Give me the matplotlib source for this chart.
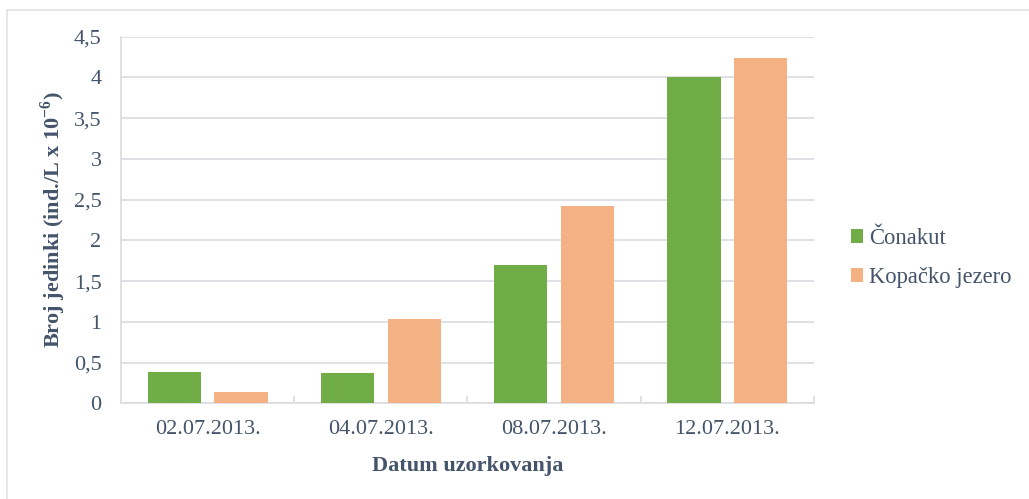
import matplotlib
matplotlib.use('Agg')
import matplotlib.pyplot as plt
from matplotlib.lines import Line2D
import numpy as np

dates    = ['02.07.2013.', '04.07.2013.', '08.07.2013.', '12.07.2013.']
conakut  = [0.39, 0.37, 1.70, 4.00]
kopacko  = [0.14, 1.03, 2.42, 4.24]
series_names = ['Čonakut', 'Kopačko jezero']
y_ticks  = [0, 0.5, 1, 1.5, 2, 2.5, 3, 3.5, 4, 4.5]
y_labels = ['0', '0,5', '1', '1,5', '2', '2,5', '3', '3,5', '4', '4,5']

txt = '#44546A'
grid_c = '#D9DCE2'

plt.rcParams['font.family'] = ['Liberation Serif', 'DejaVu Serif']
plt.rcParams['mathtext.fontset'] = 'custom'
plt.rcParams['mathtext.rm'] = 'Liberation Serif'
plt.rcParams['mathtext.bf'] = 'Liberation Serif:bold'

fig = plt.figure(figsize=(10.29, 4.99), dpi=100)
ax = fig.add_axes([121/1029, 1 - 403.3/499, (814 - 121)/1029, (403.3 - 36.7)/499])

# outer frame (only top and left edges are visible in the original)
fig.add_artist(Line2D([7/1029, 7/1029], [0, 1 - 10/499], transform=fig.transFigure,
                      color='#E3E3E3', lw=1.2))
fig.add_artist(Line2D([7/1029, 1], [1 - 10/499, 1 - 10/499], transform=fig.transFigure,
                      color='#E3E3E3', lw=1.2))

x = np.arange(len(dates))
w = 1 / 3.25
off = 0.625 * w
ax.bar(x - off, conakut, w, color='#70AD47', label=series_names[0], zorder=3)
ax.bar(x + off, kopacko, w, color='#F4B183', label=series_names[1], zorder=3)

ax.set_xlim(-0.5, 3.5)
ax.set_ylim(0, 4.5)
ax.set_yticks(y_ticks)
ax.set_yticklabels(y_labels)
ax.set_xticks(x)
ax.set_xticklabels(dates)
ax.set_xticks([0.5, 1.5, 2.5, 3.5], minor=True)

ax.tick_params(axis='y', length=0, pad=14, labelsize=16, labelcolor=txt)
ax.tick_params(axis='x', which='major', length=0, pad=12, labelsize=16, labelcolor=txt)
ax.tick_params(axis='x', which='minor', direction='in', length=5, width=1.2, color=grid_c)

ax.grid(axis='y', color=grid_c, linewidth=1.2, zorder=0)
for s in ['top', 'right']:
    ax.spines[s].set_visible(False)
for s in ['left', 'bottom']:
    ax.spines[s].set_color(grid_c)
    ax.spines[s].set_linewidth(1.2)

ax.set_xlabel('Datum uzorkovanja', fontsize=16, fontweight='bold', color=txt, labelpad=12)
ax.set_ylabel(r'Broj jedinki (ind./L x 10$^{\mathbf{-6}}$)', fontsize=16,
              fontweight='bold', color=txt, labelpad=4)

ax.legend(loc='center left', bbox_to_anchor=(851/1029, 1 - 258/499),
          bbox_transform=fig.transFigure, frameon=False, fontsize=16.3,
          labelcolor=txt, handlelength=0.55, handleheight=0.55,
          handletextpad=0.25, labelspacing=0.8, borderpad=0, borderaxespad=0)

plt.savefig('out.png', dpi=100, facecolor='white')
